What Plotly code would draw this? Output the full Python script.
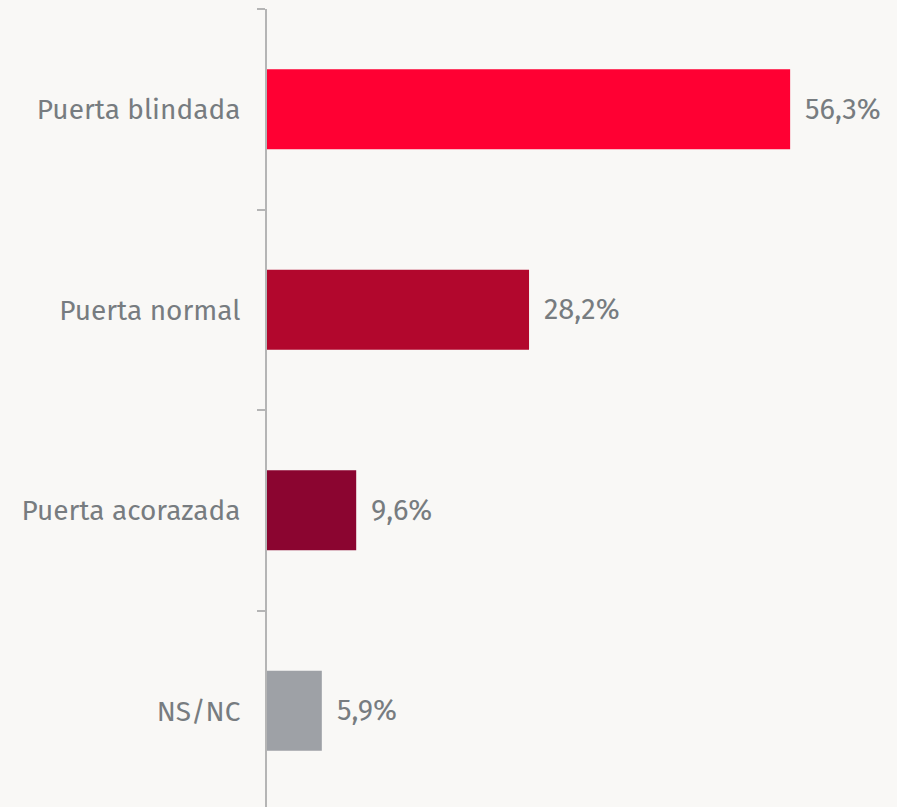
import plotly.graph_objects as go

categories = ["Puerta blindada", "Puerta normal", "Puerta acorazada", "NS/NC"]
values = [56.3, 28.2, 9.6, 5.9]
labels = ["56,3%", "28,2%", "9,6%", "5,9%"]
colors = ["#FF0033", "#B2072D", "#8B0530", "#9EA1A6"]

font_family = "Fira Sans, Noto Sans, Open Sans, sans-serif"
text_color = "#777C80"

fig = go.Figure()
fig.add_trace(go.Bar(
    x=values, y=categories, orientation="h",
    marker=dict(color=colors, line=dict(width=0)),
    width=0.4, hoverinfo="skip",
))

for c, v, t in zip(categories, values, labels):
    fig.add_annotation(x=v, y=c, text=t, showarrow=False, xanchor="left",
                       xshift=13,
                       font=dict(size=29, color=text_color, family=font_family))

fig.update_layout(
    width=897, height=807,
    margin=dict(l=267, r=0, t=9, b=0),
    paper_bgcolor="#F9F8F6", plot_bgcolor="#F9F8F6",
    showlegend=False,
    xaxis=dict(range=[0, 67.8], visible=False, fixedrange=True),
    yaxis=dict(
        type="category", range=[3.48, -0.5], fixedrange=True,
        showline=True, linecolor="#B5B5B5", linewidth=2,
        ticks="outside", ticklen=8, tickwidth=2, tickcolor="#B5B5B5",
        tickson="boundaries", showgrid=False, zeroline=False,
        tickfont=dict(size=28, color=text_color, family=font_family),
        ticklabelstandoff=19,
    ),
)

fig.write_html("out.html", config={"displayModeBar": False},
               post_script="document.body.style.margin='0';document.body.style.overflow='hidden';")
